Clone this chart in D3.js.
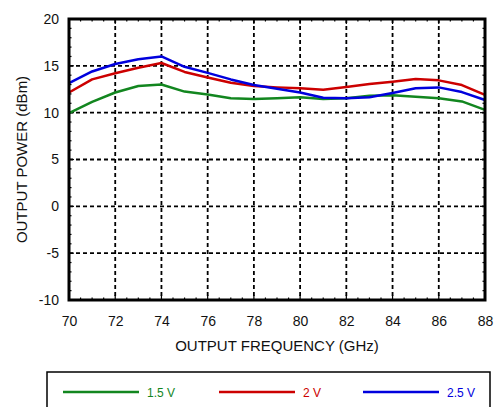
<!DOCTYPE html>
<html><head><meta charset="utf-8">
<script src="https://cdn.jsdelivr.net/npm/d3@7"></script>
<style>body{margin:0;background:#fff}svg{display:block;font-family:"Liberation Sans",Arial,sans-serif}</style>
</head><body><svg id="c" width="494" height="407"></svg>
<script>
const freqs = [70,71,72,73,74,75,76,77,78,79,80,81,82,83,84,85,86,87,88];
const v15 = [9.95,11.15,12.15,12.85,13.0,12.25,11.95,11.55,11.45,11.55,11.65,11.45,11.55,11.8,11.85,11.7,11.55,11.2,10.3];
const v20 = [12.15,13.55,14.2,14.8,15.3,14.35,13.75,13.2,12.85,12.7,12.6,12.45,12.75,13.05,13.3,13.6,13.45,12.95,11.9];
const v25 = [13.15,14.4,15.2,15.7,16.0,14.9,14.25,13.55,12.95,12.55,12.15,11.6,11.55,11.65,12.1,12.6,12.7,12.2,11.35];
const seriesNames = ["1.5 V","2 V","2.5 V"];
const seriesColors = ["#12861f","#cc0000","#0000dd"];
const xTicks = [70,72,74,76,78,80,82,84,86,88];
const yTicks = [-10,-5,0,5,10,15,20];

const svg = d3.select("#c");
const L=69,R=485,T=19,B=300;
const x = d3.scaleLinear().domain([70,88]).range([L,R]);
const y = d3.scaleLinear().domain([-10,20]).range([B,T]);

// grid
const g = svg.append("g");
g.selectAll(".gx").data(xTicks.slice(1,-1)).join("line")
 .attr("x1",d=>x(d)).attr("x2",d=>x(d)).attr("y1",T).attr("y2",B)
 .attr("stroke","#000").attr("stroke-width",1.8).attr("stroke-dasharray","4,3");
g.selectAll(".gy").data(yTicks.slice(1,-1)).join("line")
 .attr("y1",d=>y(d)).attr("y2",d=>y(d)).attr("x1",L).attr("x2",R)
 .attr("stroke","#000").attr("stroke-width",1.8).attr("stroke-dasharray","4,3");

// minor ticks
const xMinor = d3.range(70,88.01,0.5);
const yMinor = d3.range(-10,20.01,1);
const mt = svg.append("g").attr("stroke","#000").attr("stroke-width",1.2);
xMinor.forEach(v=>{
  const len = (v%2===0)?5:2.5;
  mt.append("line").attr("x1",x(v)).attr("x2",x(v)).attr("y1",B).attr("y2",B-len);
  mt.append("line").attr("x1",x(v)).attr("x2",x(v)).attr("y1",T).attr("y2",T+len);
});
yMinor.forEach(v=>{
  const len = (v%5===0)?5:2.5;
  mt.append("line").attr("y1",y(v)).attr("y2",y(v)).attr("x1",L).attr("x2",L+len);
  mt.append("line").attr("y1",y(v)).attr("y2",y(v)).attr("x1",R).attr("x2",R-len);
});

// lines
const line = d3.line().x((d,i)=>x(freqs[i])).y(d=>y(d));
[v15,v20,v25].forEach((s,i)=>{
  svg.append("path").datum(s).attr("d",line).attr("fill","none")
   .attr("stroke",seriesColors[i]).attr("stroke-width",2.5).attr("stroke-linejoin","round");
});

// border
svg.append("rect").attr("x",L).attr("y",T).attr("width",R-L).attr("height",B-T)
 .attr("fill","none").attr("stroke","#000").attr("stroke-width",3);

// axes labels
const xa = svg.append("g").attr("transform",`translate(0,${B+16})`)
 .call(d3.axisBottom(x).tickValues(xTicks).tickSize(0).tickFormat(d=>String(d)));
xa.select(".domain").remove();
xa.selectAll("text").attr("font-size",14).attr("fill","#111").attr("y",0).attr("dy","0.71em").attr("font-family","Liberation Sans, Arial, sans-serif");
const ya = svg.append("g").attr("transform",`translate(${L-10},0)`)
 .call(d3.axisLeft(y).tickValues(yTicks).tickSize(0).tickFormat(d=>String(d)));
ya.select(".domain").remove();
ya.selectAll("text").attr("font-size",14).attr("fill","#111").attr("x",0).attr("font-family","Liberation Sans, Arial, sans-serif");

svg.append("text").attr("x",(L+R)/2).attr("y",351).attr("text-anchor","middle")
 .attr("font-size",15).attr("fill","#111").text("OUTPUT FREQUENCY (GHz)");
svg.append("text").attr("transform",`translate(27,${(T+B)/2}) rotate(-90)`).attr("text-anchor","middle")
 .attr("font-size",15).attr("fill","#111").text("OUTPUT POWER (dBm)");

// legend
svg.append("rect").attr("x",47).attr("y",372).attr("width",443).attr("height",45)
 .attr("fill","#fff").attr("stroke","#000").attr("stroke-width",1.5);
const legX = [63,219,363];
seriesNames.forEach((n,i)=>{
  svg.append("line").attr("x1",legX[i]).attr("x2",legX[i]+76).attr("y1",392).attr("y2",392)
   .attr("stroke",seriesColors[i]).attr("stroke-width",2.5);
  svg.append("text").attr("x",legX[i]+84).attr("y",396.5).attr("font-size",12)
   .attr("fill",seriesColors[i]).text(n);
});
</script></body></html>
